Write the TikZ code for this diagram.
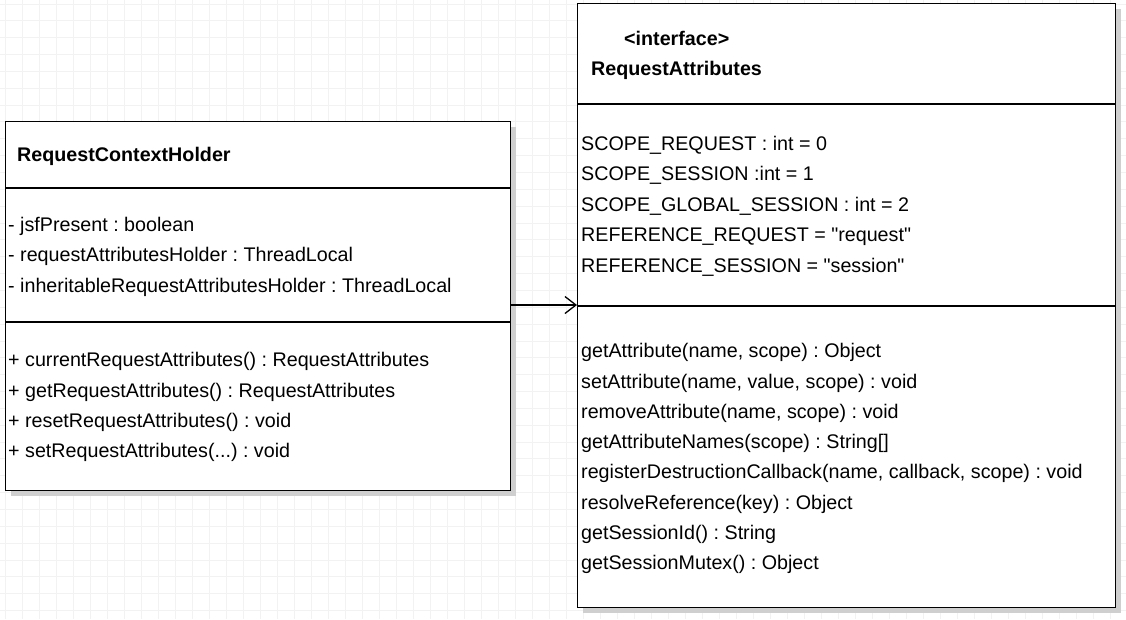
\documentclass[tikz,border=0pt]{standalone}
\usepackage{fontspec}
\setmainfont{Liberation Sans}[Ligatures=TeXOff]
\usetikzlibrary{arrows.meta}
\colorlet{gridcol}{black!5}
\colorlet{shadowcol}{black!19}

\tikzset{
  umlbox/.style={draw=black,line width=1.3pt,fill=white,rectangle,anchor=north west,inner sep=0pt},
  boxshadow/.style={fill=shadowcol,rectangle,anchor=north west,inner sep=0pt},
  member/.style={anchor=mid west,inner sep=0pt,font=\fontsize{19.7}{23}\selectfont\frenchspacing},
  classname/.style={member,font=\fontsize{19.7}{23}\selectfont\bfseries},
  divider/.style={line width=1.3pt},
  assoc/.style={line width=1.3pt,-{Straight Barb[length=11pt,width=17pt,line width=1.3pt]}}
}

\begin{document}
\begin{tikzpicture}[x=1pt,y=-1pt]
  \useasboundingbox (0,0) rectangle (1126,619);
  \fill[white] (0,0) rectangle (1126,619);

  % background grid
  \foreach \gx in {0,...,66}
    \draw[gridcol,line width=1pt] (5.7+17*\gx,0) -- (5.7+17*\gx,619);
  \foreach \gy in {0,...,36}
    \draw[gridcol,line width=1pt] (0,4+16.85*\gy) -- (1126,4+16.85*\gy);

  % shadows
  \node[boxshadow,minimum width=505pt,minimum height=369pt] at (11,127) {};
  \node[boxshadow,minimum width=538pt,minimum height=604pt] at (583,9) {};

  % class boxes
  \node[umlbox,minimum width=505pt,minimum height=369pt] (holder) at (5,121) {};
  \node[umlbox,minimum width=538pt,minimum height=604pt] (attrs) at (577,3) {};

  % compartments
  \coordinate (h1) at (0,188);
  \coordinate (h2) at (0,322);
  \coordinate (a1) at (0,104);
  \coordinate (a2) at (0,306);
  \draw[divider] (holder.west |- h1) -- (holder.east |- h1);
  \draw[divider] (holder.west |- h2) -- (holder.east |- h2);
  \draw[divider] (attrs.west |- a1) -- (attrs.east |- a1);
  \draw[divider] (attrs.west |- a2) -- (attrs.east |- a2);

  % RequestContextHolder
  \node[classname] (hname) at (17,159) {RequestContextHolder};
  \node[member] (hf1) at (8,229) {- jsfPresent : boolean};
  \node[member] (hf2) at (8,259) {- requestAttributesHolder : ThreadLocal};
  \node[member] (hf3) at (8,290) {- inheritableRequestAttributesHolder : ThreadLocal};
  \node[member] (hm1) at (8,364) {+ currentRequestAttributes() : RequestAttributes};
  \node[member] (hm2) at (8,395) {+ getRequestAttributes() : RequestAttributes};
  \node[member] (hm3) at (8,425) {+ resetRequestAttributes() : void};
  \node[member] (hm4) at (8,455) {+ setRequestAttributes(...) : void};

  % RequestAttributes
  \node[classname] (stereo) at (624,43) {<interface>};
  \node[classname] (aname) at (591,73) {RequestAttributes};
  \node[member] (af1) at (581,148) {SCOPE\_REQUEST : int = 0};
  \node[member] (af2) at (581,178) {SCOPE\_SESSION :int = 1};
  \node[member] (af3) at (581,209) {SCOPE\_GLOBAL\_SESSION : int = 2};
  \node[member] (af4) at (581,239) {REFERENCE\_REQUEST = "request"};
  \node[member] (af5) at (581,270) {REFERENCE\_SESSION = "session"};
  \node[member] (am1) at (581,355) {getAttribute(name, scope) : Object};
  \node[member] (am2) at (581,386) {setAttribute(name, value, scope) : void};
  \node[member] (am3) at (581,416) {removeAttribute(name, scope) : void};
  \node[member] (am4) at (581,446) {getAttributeNames(scope) : String[]};
  \node[member] (am5) at (581,476) {registerDestructionCallback(name, callback, scope) : void};
  \node[member] (am6) at (581,507) {resolveReference(key) : Object};
  \node[member] (am7) at (581,537) {getSessionId() : String};
  \node[member] (am8) at (581,567) {getSessionMutex() : Object};

  % association
  \coordinate (link) at (0,305);
  \draw[assoc] (holder.east |- link) -- (attrs.west |- link);
\end{tikzpicture}
\end{document}
